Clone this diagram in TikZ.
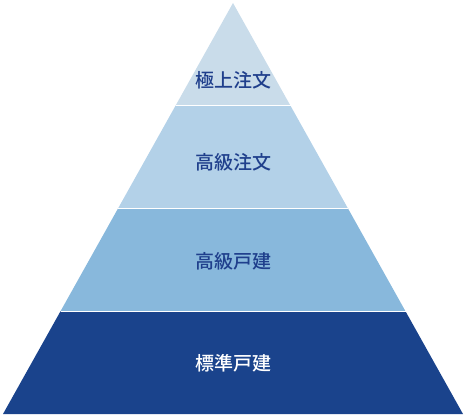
\documentclass[tikz,border=0pt]{standalone}
\usepackage{fontspec}
\newfontfamily\jafont{Noto Sans CJK JP}[UprightFont=* Medium]
\usetikzlibrary{calc}

\definecolor{tierA}{HTML}{C9DCEA}
\definecolor{tierB}{HTML}{B3D1E8}
\definecolor{tierC}{HTML}{88B8DC}
\definecolor{tierD}{HTML}{1A438C}
\definecolor{labelblue}{HTML}{1F3F8C}

\tikzset{
  tierlabel/.style={font=\jafont\fontsize{19}{19}\selectfont, text=labelblue, inner sep=0pt},
  tiersep/.style={draw=white, line width=1.2pt}
}

\begin{document}
\begin{tikzpicture}[x=1pt, y=1pt]

				\useasboundingbox (0,0) rectangle (466,416);

				\coordinate (apex) at (233,413);
				\coordinate (bl) at (3,2);
				\coordinate (br) at (463,2);

				% bands, from the top down
				\foreach \t/\b/\c in {0/0.25/tierA, 0.25/0.5/tierB, 0.5/0.75/tierC, 0.75/1/tierD}
					\fill [\c] ($(apex)!\t!(bl)$) -- ($(apex)!\b!(bl)$) -- ($(apex)!\b!(br)$) -- ($(apex)!\t!(br)$) -- cycle;

				\foreach \b in {0.25, 0.5, 0.75}
					\draw [tiersep] ($(apex)!\b!(bl)$) -- ($(apex)!\b!(br)$);

				\node [tierlabel] (top) at (233,336) {極上注文};
				\node [tierlabel] (upper) at (233,253.5) {高級注文};
				\node [tierlabel] (mid) at (233,154.5) {高級戸建};
				\node [tierlabel, text=white] (base) at (233,52.5) {標準戸建};
			\end{tikzpicture}
\end{document}
